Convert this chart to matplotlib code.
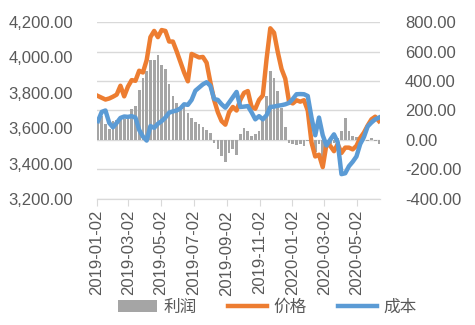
import pandas as pd
import numpy as np
import matplotlib.pyplot as plt
import matplotlib.dates as mdates

plt.rcParams['font.family'] = ['Liberation Sans', 'Noto Sans CJK SC', 'DejaVu Sans']

# weekly readings (Fridays)
weeks = pd.date_range('2019-01-04', periods=76, freq='W-FRI')

price = [3782, 3772, 3762, 3768, 3778, 3790, 3840, 3780, 3835, 3872,
         3868, 3925, 3915, 3985, 4115, 4150, 4115, 4155, 4150, 4090,
         4090, 4035, 3975, 3915, 3865, 4020, 4010, 4000, 4003, 3970,
         3860, 3760, 3690, 3640, 3620, 3690, 3720, 3700, 3760, 3800,
         3810, 3720, 3710, 3760, 3785, 3990, 4165, 4140, 4030, 3935,
         3880, 3750, 3740, 3758, 3750, 3758, 3700, 3520, 3440, 3450,
         3380, 3510, 3500, 3470, 3510, 3460, 3490, 3490, 3480, 3500,
         3545, 3575, 3615, 3650, 3665, 3640]

cost = [3640, 3692, 3700, 3630, 3605, 3630, 3658, 3666, 3664, 3668,
        3660, 3590, 3553, 3530, 3612, 3602, 3625, 3640, 3660, 3688,
        3695, 3700, 3712, 3735, 3732, 3760, 3812, 3830, 3848, 3860,
        3840, 3765, 3760, 3735, 3716, 3745, 3775, 3805, 3720, 3722,
        3725, 3690, 3650, 3668, 3650, 3673, 3720, 3722, 3727, 3730,
        3735, 3743, 3765, 3792, 3793, 3792, 3782, 3660, 3560, 3660,
        3560, 3502, 3535, 3565, 3520, 3340, 3345, 3385, 3410, 3440,
        3510, 3550, 3610, 3632, 3650, 3660]

profit = [150, 160, 110, 75, 130, 135, 140, 145, 150, 210,
          230, 340, 420, 470, 540, 545, 575, 510, 480, 380,
          300, 250, 220, 230, 180, 150, 120, 110, 90, 70,
          50, -20, -60, -110, -150, -90, -60, -100, 40, 80,
          60, 30, 40, 60, 150, 300, 470, 420, 330, 220,
          90, -20, -30, -35, -30, -40, -10, -40, -80, -30,
          -150, -10, -30, -20, 10, 60, 150, 60, 30, 20,
          10, 20, -10, 15, -5, -25]

left_ticks = [3200, 3400, 3600, 3800, 4000, 4200]
right_ticks = [-400, -200, 0, 200, 400, 600, 800]
date_ticks = pd.to_datetime(['2019-01-02', '2019-03-02', '2019-05-02', '2019-07-02',
                             '2019-09-02', '2019-11-02', '2020-01-02', '2020-03-02',
                             '2020-05-02'])

fig = plt.figure(figsize=(4.75, 3.25), dpi=100)
ax = fig.add_axes([0.204, 0.388, 0.596, 0.544])
ax2 = ax.twinx()

ax2.bar(weeks, profit, width=5, color='#A5A5A5', label='利润')
l1, = ax.plot(weeks, price, color='#ED7D31', lw=3.2, label='价格')
l2, = ax.plot(weeks, cost, color='#5B9BD5', lw=3.2, label='成本')

ax.set_zorder(ax2.get_zorder() + 1)
ax.patch.set_visible(False)

ax.set_ylim(3200, 4200)
ax2.set_ylim(-400, 800)
ax.set_yticks(left_ticks)
ax2.set_yticks(right_ticks)
ax.yaxis.set_major_formatter(plt.FuncFormatter(lambda v, p: f'{v:,.2f}'))
ax2.yaxis.set_major_formatter(plt.FuncFormatter(lambda v, p: f'{v:,.2f}'))

ax.set_xlim(pd.Timestamp('2019-01-02'), pd.Timestamp('2020-06-14'))
ax.set_xticks(date_ticks)
ax.xaxis.set_major_formatter(mdates.DateFormatter('%Y-%m-%d'))
ax.tick_params(axis='x', rotation=90, length=5, color='#D9D9D9', labelcolor='#595959', labelsize=12, pad=3)
ax.tick_params(axis='y', length=0, labelcolor='#595959', labelsize=12, pad=17)
ax2.tick_params(axis='y', length=0, labelcolor='#595959', labelsize=12, pad=18)
ax2.tick_params(axis='x', length=0)

ax2.grid(axis='y', color='#D9D9D9', lw=1)
ax2.set_axisbelow(True)
for a in (ax, ax2):
    for s in ('top', 'left', 'right'):
        a.spines[s].set_visible(False)
    a.spines['bottom'].set_color('#D9D9D9')

handles = [ax2.patches[0], l1, l2]
fig.legend(handles, ['利润', '价格', '成本'], loc='center', bbox_to_anchor=(0.563, 0.055),
           ncol=3, frameon=False, fontsize=12, handlelength=2.3, handletextpad=0.4,
           columnspacing=1.9, labelcolor='#595959')

fig.savefig('out.png', dpi=100)
